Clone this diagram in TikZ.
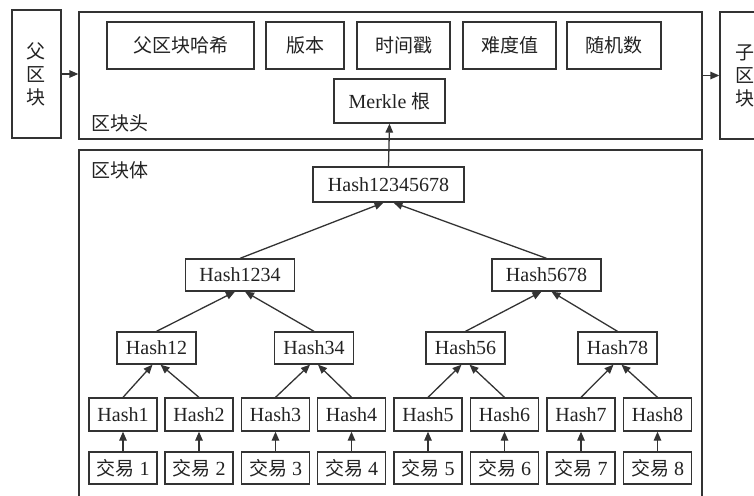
\documentclass[tikz,border=0pt]{standalone}
\usepackage{fontspec}
\setmainfont{Liberation Serif}
\newfontfamily\cjk{Noto Sans CJK SC}
\usetikzlibrary{arrows.meta}
\definecolor{linec}{HTML}{333333}
\definecolor{textc}{HTML}{222222}

\begin{document}
\begin{tikzpicture}[x=1pt,y=-1pt,
  box/.style={draw=linec, line width=1.3pt, inner sep=0pt, text=textc,
    font=\fontsize{20}{23}\selectfont},
  frame/.style={draw=linec, line width=1.3pt, inner sep=0pt},
  field/.style={box, minimum height=47pt},
  top/.style={box, minimum width=151pt, minimum height=35pt},
  l2/.style={box, minimum width=109pt, minimum height=32pt},
  l3/.style={box, minimum width=79pt, minimum height=32pt},
  leaf/.style={box, minimum width=68pt, minimum height=33pt},
  tx/.style={box, minimum width=68pt, minimum height=32pt},
  zh/.style={font=\fontsize{19}{23}\selectfont\cjk},
  lbl/.style={inner sep=0pt, anchor=west, text=textc, zh},
  arr/.style={draw=linec, line width=1.3pt, -{Triangle[length=9pt,width=7.5pt]}},
]
\clip (0,0) rectangle (754,495);

% neighbouring blocks
\node[box, minimum width=49pt, minimum height=128pt, align=center, zh]
  (parent) at (36.5,74) {父\\区\\块};
\node[box, minimum width=49pt, minimum height=127pt, align=center, zh]
  (child) at (744.5,75.5) {子\\区\\块};

% block header
\node[frame, minimum width=623pt, minimum height=127pt] (header) at (390.5,75.5) {};
\node[lbl] (hlbl) at (91,123.5) {区块头};
\node[field, zh, minimum width=147pt] (prevhash) at (180.5,45.5) {父区块哈希};
\node[field, zh, minimum width=78pt]  (version)  at (305,45.5)   {版本};
\node[field, zh, minimum width=93pt]  (stamp)    at (403.5,45.5) {时间戳};
\node[field, zh, minimum width=93pt]  (diff)     at (509.5,45.5) {难度值};
\node[field, zh, minimum width=94pt]  (nonce)    at (614,45.5)   {随机数};
\node[box, minimum width=111pt, minimum height=44pt] (merkle) at (389.5,101) {Merkle {\fontsize{19}{23}\selectfont\cjk 根}};

% block body
\node[frame, minimum width=623pt, minimum height=370pt] (body) at (390.5,335) {};
\node[lbl] (blbl) at (91,170) {区块体};

% Merkle tree
\node[top] (h18) at (388.5,184.5) {Hash12345678};
\node[l2] (h14) at (240,275) {Hash1234};
\node[l2] (h58) at (546.5,275) {Hash5678};
\node[l3] (h12) at (156.5,348) {Hash12};
\node[l3] (h34) at (314,348)   {Hash34};
\node[l3] (h56) at (465.5,348) {Hash56};
\node[l3] (h78) at (617.5,348) {Hash78};

\foreach \i/\x in {1/123,2/199,3/275.5,4/351.5,5/428,6/504.5,7/581,8/657.5}{
  \node[leaf] (h\i) at (\x,414.5) {Hash\i};
  \node[tx] (t\i) at (\x,468) {{\fontsize{19}{23}\selectfont\cjk 交易} \i};
  \draw[arr] (t\i.north) -- (h\i.south);
}

% links between levels
\draw[arr] (h1.north) -- ([xshift=-4pt]h12.south);
\draw[arr] (h2.north) -- ([xshift=4pt]h12.south);
\draw[arr] (h3.north) -- ([xshift=-4pt]h34.south);
\draw[arr] (h4.north) -- ([xshift=4pt]h34.south);
\draw[arr] (h5.north) -- ([xshift=-4pt]h56.south);
\draw[arr] (h6.north) -- ([xshift=4pt]h56.south);
\draw[arr] (h7.north) -- ([xshift=-4pt]h78.south);
\draw[arr] (h8.north) -- ([xshift=4pt]h78.south);
\draw[arr] (h12.north) -- ([xshift=-5pt]h14.south);
\draw[arr] (h34.north) -- ([xshift=5pt]h14.south);
\draw[arr] (h56.north) -- ([xshift=-5pt]h58.south);
\draw[arr] (h78.north) -- ([xshift=5pt]h58.south);
\draw[arr] (h14.north) -- ([xshift=-5pt]h18.south);
\draw[arr] (h58.north) -- ([xshift=5pt]h18.south);
\draw[arr] (h18.north) -- (merkle.south);

% chain links
\draw[arr] (parent.east) -- (parent.east -| header.west);
\draw[arr] (header.east) -- (header.east -| child.west);
\end{tikzpicture}
\end{document}
